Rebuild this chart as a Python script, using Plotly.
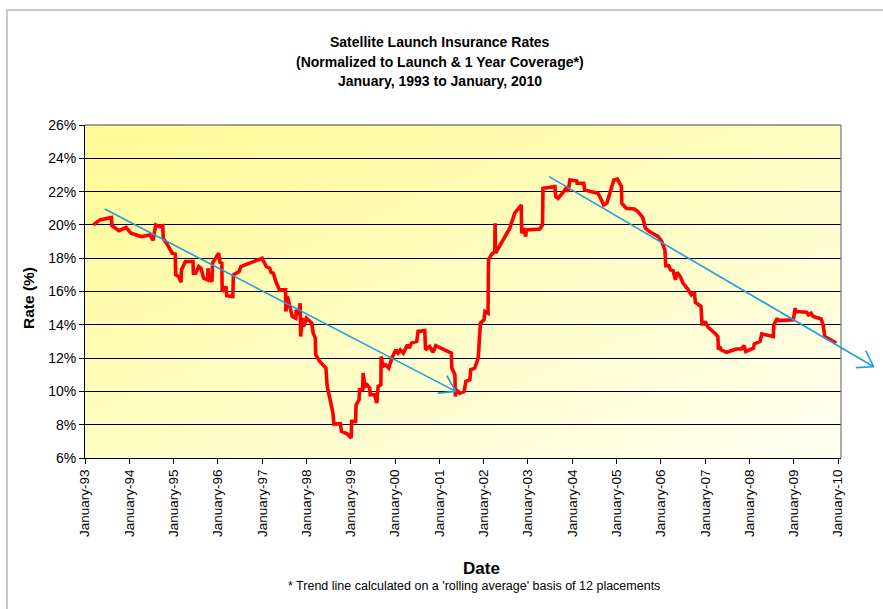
import base64
import math
import pandas as pd
import plotly.graph_objects as go

# ---------------- data ----------------
dates = [
    "1993-03-10", "1993-05-04", "1993-08-07", "1993-08-11", "1993-10-08", "1993-12-06",
    "1994-01-15", "1994-04-09", "1994-06-21", "1994-07-16", "1994-08-07", "1994-09-05",
    "1994-10-04", "1994-10-08", "1994-11-21", "1994-12-20", "1995-01-15", "1995-01-19",
    "1995-02-10", "1995-03-04", "1995-03-07", "1995-04-09", "1995-06-10", "1995-06-14",
    "1995-07-02", "1995-07-28", "1995-08-15", "1995-09-06", "1995-10-09", "1995-10-12",
    "1995-10-20", "1995-11-14", "1995-11-18", "1996-01-08", "1996-01-19", "1996-02-03",
    "1996-02-06", "1996-03-10", "1996-03-14", "1996-05-04", "1996-05-08", "1996-06-25",
    "1996-07-09", "1997-01-01", "1997-02-03", "1997-03-04", "1997-03-15", "1997-04-02",
    "1997-04-28", "1997-05-23", "1997-07-13", "1997-07-15", "1997-07-28", "1997-08-15",
    "1997-09-06", "1997-10-05", "1997-10-08", "1997-10-27", "1997-11-10", "1997-11-14",
    "1997-11-28", "1997-12-09", "1998-01-01", "1998-02-14", "1998-02-25", "1998-03-15",
    "1998-03-18", "1998-04-20", "1998-06-10", "1998-06-21", "1998-07-13", "1998-08-07",
    "1998-08-15", "1998-10-08", "1998-10-16", "1998-12-02", "1999-01-05", "1999-01-08",
    "1999-02-10", "1999-02-14", "1999-03-11", "1999-03-14", "1999-04-09", "1999-04-13",
    "1999-04-28", "1999-05-16", "1999-06-07", "1999-06-10", "1999-07-16", "1999-08-04",
    "1999-08-15", "1999-09-06", "1999-09-09", "1999-09-24", "1999-10-16", "1999-11-10",
    "1999-12-09", "2000-01-08", "2000-01-26", "2000-02-14", "2000-03-10", "2000-03-21",
    "2000-04-12", "2000-04-27", "2000-05-15", "2000-06-28", "2000-07-09", "2000-09-02",
    "2000-09-09", "2000-10-12", "2000-11-10", "2000-12-02", "2001-01-30", "2001-04-10",
    "2001-04-13", "2001-05-09", "2001-05-12", "2001-05-20", "2001-06-18", "2001-07-24",
    "2001-08-07", "2001-09-09", "2001-09-16", "2001-10-19", "2001-11-17", "2001-12-05",
    "2002-01-04", "2002-01-12", "2002-02-06", "2002-02-10", "2002-03-04", "2002-04-02",
    "2002-04-05", "2002-04-09", "2002-08-04", "2002-08-26", "2002-09-13", "2002-10-27",
    "2002-11-07", "2002-11-10", "2002-11-28", "2002-12-13", "2002-12-20", "2003-04-09",
    "2003-05-01", "2003-05-05", "2003-08-11", "2003-08-18", "2003-09-06", "2003-10-23",
    "2003-11-10", "2003-11-28", "2003-12-13", "2004-02-06", "2004-02-10", "2004-04-05",
    "2004-04-12", "2004-06-02", "2004-07-31", "2004-08-29", "2004-09-16", "2004-10-12",
    "2004-11-07", "2004-12-09", "2005-01-08", "2005-02-10", "2005-02-12", "2005-03-21",
    "2005-05-27", "2005-06-25", "2005-08-04", "2005-08-26", "2005-09-28", "2005-12-10",
    "2006-01-08", "2006-02-03", "2006-02-10", "2006-03-07", "2006-03-21", "2006-04-12",
    "2006-05-01", "2006-05-15", "2006-06-10", "2006-07-02", "2006-08-11", "2006-09-09",
    "2006-10-05", "2006-10-12", "2006-11-28", "2006-12-06", "2006-12-24", "2007-01-01",
    "2007-01-26", "2007-02-21", "2007-03-29", "2007-04-16", "2007-04-20", "2007-05-01",
    "2007-05-12", "2007-06-25", "2007-08-04", "2007-09-16", "2007-10-27", "2007-11-17",
    "2007-12-02", "2008-01-04", "2008-02-03", "2008-02-10", "2008-03-28", "2008-04-12",
    "2008-05-19", "2008-07-16", "2008-07-20", "2008-08-18", "2008-08-22", "2008-12-28",
    "2009-01-12", "2009-01-19", "2009-04-16", "2009-05-01", "2009-05-23", "2009-06-10",
    "2009-08-15", "2009-09-02", "2009-09-13", "2009-11-07", "2009-12-17",
]
rates = [
    20.0, 20.3, 20.45, 19.95, 19.65, 19.85,
    19.5, 19.3, 19.4, 19.07, 20.0, 19.9,
    19.95, 19.2, 18.7, 18.3, 18.25, 17.0,
    16.9, 16.55, 17.3, 17.8, 17.8, 17.1,
    17.1, 17.5, 17.4, 16.8, 16.7, 17.4,
    16.8, 16.6, 17.7, 18.3, 17.75, 17.7,
    16.0, 16.3, 15.75, 15.7, 17.0, 17.2,
    17.5, 18.0, 17.5, 17.4, 17.15, 17.1,
    16.5, 16.1, 16.1, 14.8, 15.7, 15.2,
    14.5, 14.4, 14.9, 14.6, 15.3, 13.3,
    14.4, 13.9, 14.4, 14.1, 13.5, 13.2,
    12.2, 11.8, 11.4, 10.3, 9.5, 8.7,
    8.05, 8.05, 7.6, 7.45, 7.2, 8.2,
    8.2, 9.2, 9.5, 10.1, 10.1, 11.1,
    10.3, 10.4, 10.2, 9.8, 9.8, 9.3,
    10.3, 10.4, 12.1, 11.5, 11.6, 11.4,
    12.05, 12.5, 12.3, 12.5, 12.3, 12.5,
    12.8, 12.6, 12.9, 13.0, 13.6, 13.65,
    12.5, 12.7, 12.35, 12.75, 12.55, 12.3,
    11.4, 11.0, 9.7, 10.1, 9.9, 10.0,
    10.6, 10.7, 11.3, 11.4, 12.0, 14.1,
    14.3, 14.8, 14.7, 17.9, 18.2, 18.4,
    20.1, 18.3, 19.8, 20.35, 20.7, 21.1,
    21.2, 19.5, 19.8, 19.3, 19.7, 19.75,
    20.0, 22.2, 22.3, 21.7, 21.6, 22.0,
    22.2, 22.0, 22.7, 22.65, 22.5, 22.5,
    22.1, 22.0, 21.9, 21.5, 21.2, 21.3,
    21.9, 22.7, 22.75, 22.3, 21.3, 21.0,
    20.95, 20.8, 20.45, 19.8, 19.6, 19.3,
    19.0, 18.5, 17.55, 17.55, 17.3, 17.25,
    16.7, 17.15, 16.9, 16.5, 16.15, 15.8,
    15.95, 15.35, 15.1, 14.05, 14.05, 14.2,
    13.85, 13.7, 13.45, 13.3, 12.5, 12.7,
    12.5, 12.35, 12.45, 12.55, 12.55, 12.75,
    12.4, 12.5, 12.6, 12.85, 13.0, 13.45,
    13.4, 13.3, 14.0, 14.4, 14.25, 14.3,
    15.0, 14.8, 14.75, 14.6, 14.7, 14.5,
    14.35, 13.9, 13.3, 13.1, 12.9,
]

# trend arrows (rolling-average trend lines)
trend_start_dates = ["1993-06-13", "2003-06-25"]
trend_start_rates = [20.95, 22.9]
trend_end_dates = ["2001-05-16", "2010-10-22"]
trend_end_rates = [10.0, 11.48]

year_ticks = [f"{y}-01-01" for y in range(1993, 2011)]

title_lines = [
    "Satellite Launch Insurance Rates",
    "(Normalized to Launch & 1 Year Coverage*)",
    "January, 1993 to January, 2010",
]
footnote = "* Trend line calculated on a 'rolling average' basis of 12 placements"

# ---------------- layout geometry ----------------
W, H = 883, 609
M = dict(l=85, r=42, t=125, b=151)
PW = W - M["l"] - M["r"]
PH = H - M["t"] - M["b"]
X_RANGE = ["1993-01-01", "2010-01-25"]
Y_RANGE = [6, 26]
FONT = "Arial, 'Liberation Sans', sans-serif"
BLUE = "#1FA0DC"

_x0 = pd.Timestamp(X_RANGE[0])
_x1 = pd.Timestamp(X_RANGE[1])


def paper_x(d):
    return (pd.Timestamp(d) - _x0) / (_x1 - _x0)


def paper_y(v):
    return (v - Y_RANGE[0]) / (Y_RANGE[1] - Y_RANGE[0])


def pix_x(p):
    return (p - M["l"]) / PW


def pix_y(p):
    return (H - M["b"] - p) / PH


# gradient background as an SVG image
svg = (
    '<svg xmlns="http://www.w3.org/2000/svg" width="100" height="100" '
    'viewBox="0 0 100 100" preserveAspectRatio="none">'
    '<defs><linearGradient id="g" x1="0" y1="0" x2="1" y2="1">'
    '<stop offset="0" stop-color="#FFFA94"/>'
    '<stop offset="0.5" stop-color="#FFFDC2"/>'
    '<stop offset="1" stop-color="#FFFFF2"/>'
    '</linearGradient></defs>'
    '<rect width="100" height="100" fill="url(#g)"/></svg>'
)
svg_uri = "data:image/svg+xml;base64," + base64.b64encode(svg.encode()).decode()

fig = go.Figure()
fig.add_trace(go.Scatter(
    x=pd.to_datetime(dates), y=rates, mode="lines",
    line=dict(color="#FF0000", width=3.6), showlegend=False, hoverinfo="x+y",
))

shapes = []
# outer chart frame
shapes.append(dict(type="rect", xref="paper", yref="paper",
                   x0=pix_x(7), x1=pix_x(895), y0=pix_y(625), y1=pix_y(10),
                   line=dict(color="#C8C8C8", width=2), layer="below"))
# plot area top and right border
shapes.append(dict(type="line", xref="paper", yref="paper", x0=0, x1=1, y0=1, y1=1,
                   line=dict(color="#808080", width=1.3), layer="above"))
shapes.append(dict(type="line", xref="paper", yref="paper", x0=1, x1=1, y0=0, y1=1,
                   line=dict(color="#808080", width=1.3), layer="above"))

# trend arrows with open heads
ARM = 18
ANG = math.radians(33)
for sd, sr, ed, er in zip(trend_start_dates, trend_start_rates, trend_end_dates, trend_end_rates):
    tx, ty = paper_x(sd), paper_y(sr)
    hx, hy = paper_x(ed), paper_y(er)
    shapes.append(dict(type="line", xref="paper", yref="paper", x0=tx, y0=ty, x1=hx, y1=hy,
                       line=dict(color=BLUE, width=1.6), layer="above"))
    base = math.atan2((ty - hy) * PH, (tx - hx) * PW)
    for sgn in (1, -1):
        a = base + sgn * ANG
        shapes.append(dict(type="line", xref="paper", yref="paper",
                           x0=hx, y0=hy,
                           x1=hx + ARM * math.cos(a) / PW,
                           y1=hy + ARM * math.sin(a) / PH,
                           line=dict(color=BLUE, width=1.6), layer="above"))

annotations = []
for line_text, ypx in zip(title_lines, [42, 62, 81]):
    annotations.append(dict(text=f"<b>{line_text}</b>", xref="paper", yref="paper",
                            x=pix_x(440), y=pix_y(ypx), xanchor="center", yanchor="middle",
                            showarrow=False, font=dict(family=FONT, size=14, color="black")))
annotations.append(dict(text="<b>Date</b>", xref="paper", yref="paper",
                        x=pix_x(481), y=pix_y(568), xanchor="center", yanchor="middle",
                        showarrow=False, font=dict(family=FONT, size=17, color="black")))
annotations.append(dict(text=footnote, xref="paper", yref="paper",
                        x=pix_x(474), y=pix_y(586), xanchor="center", yanchor="middle",
                        showarrow=False, font=dict(family=FONT, size=12.5, color="black")))
annotations.append(dict(text="<b>Rate (%)</b>", xref="paper", yref="paper",
                        x=pix_x(28), y=pix_y(298), xanchor="center", yanchor="middle",
                        textangle=-90, showarrow=False,
                        font=dict(family=FONT, size=15.5, color="black")))

fig.update_layout(
    width=W, height=H, margin=M,
    paper_bgcolor="white", plot_bgcolor="rgba(0,0,0,0)",
    font=dict(family=FONT, color="black"),
    showlegend=False,
    shapes=shapes, annotations=annotations,
    images=[dict(source=svg_uri, xref="paper", yref="paper", x=0, y=1,
                 sizex=1, sizey=1, sizing="stretch", xanchor="left", yanchor="top",
                 layer="below")],
)
fig.update_xaxes(
    type="date", range=X_RANGE, tickmode="array", tickvals=year_ticks,
    tickformat="%B-%y", tickangle=-90, ticks="outside", ticklen=5, tickcolor="black",
    showline=True, linecolor="black", linewidth=1, showgrid=False, zeroline=False,
    tickfont=dict(family=FONT, size=13.5, color="black"),
)
fig.update_yaxes(
    range=Y_RANGE, tick0=6, dtick=2, ticksuffix="%", ticks="outside", ticklen=5,
    tickcolor="black", showline=True, linecolor="black", linewidth=1,
    showgrid=True, gridcolor="black", gridwidth=1, zeroline=False,
    tickfont=dict(family=FONT, size=14, color="black"),
)

fig.write_html(
    "out.html",
    config={"displayModeBar": False},
    post_script="document.body.style.margin='0';document.body.style.overflow='hidden';",
)
